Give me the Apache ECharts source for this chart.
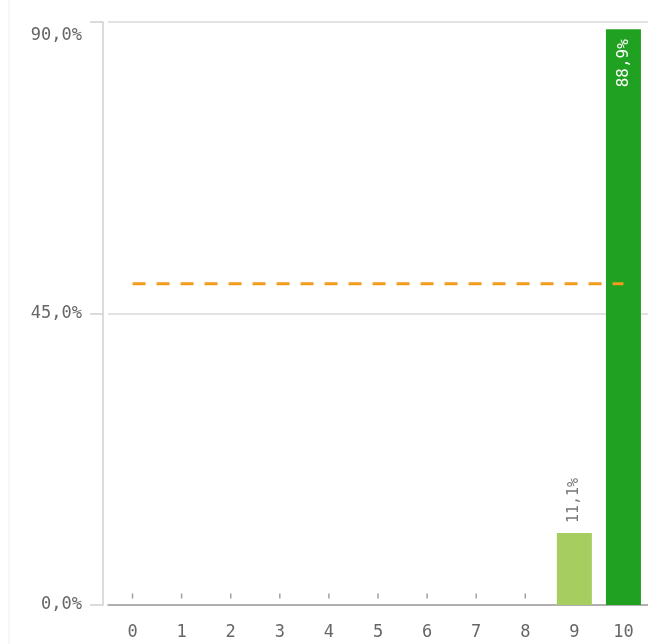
<!DOCTYPE html>
<html>
<head>
<meta charset="utf-8">
<script src="https://cdn.jsdelivr.net/npm/echarts@6/dist/echarts.min.js"></script>
<style>html,body{margin:0;padding:0;background:#fff;}#c{width:648px;height:644px;}</style>
</head>
<body>
<div id="c"></div>
<script>
var categories = ['0','1','2','3','4','5','6','7','8','9','10'];
var values = [0,0,0,0,0,0,0,0,0,11.1,88.9];
var barColors = ['#a5cd60','#a5cd60','#a5cd60','#a5cd60','#a5cd60','#a5cd60','#a5cd60','#a5cd60','#a5cd60','#a5cd60','#21a121'];
var referenceValue = 49.6;
var yTicks = [0, 45, 90];

var fmt = function(v){ return v.toFixed(1).replace('.', ',') + '%'; };
var FONT = '"DejaVu Sans Mono", monospace';
var yMax = yTicks[yTicks.length-1];

var chart = echarts.init(document.getElementById('c'), null, {renderer:'canvas'});
chart.setOption({
  animation: false,
  graphic: [{type:'line', shape:{x1:9,y1:0,x2:9,y2:644}, style:{stroke:'#eeeeee', lineWidth:1}}],
  grid: {left:108, right:-2, top:22, bottom:39, containLabel:false},
  xAxis: {
    type:'category', data:categories,
    axisLine:{show:true, lineStyle:{color:'#a0a0a0', width:1.5}},
    axisTick:{show:false},
    axisLabel:{color:'#666', fontSize:17, fontFamily:FONT, margin:19}
  },
  yAxis: {
    type:'value', min:yTicks[0], max:yMax, interval:45, offset:5,
    axisLine:{show:true, lineStyle:{color:'#d0d0d0', width:1.5}},
    axisTick:{show:true, length:13, lineStyle:{color:'#d0d0d0', width:1.5}},
    splitLine:{show:true, lineStyle:{color:'#d8d8d8', width:1.5}},
    axisLabel:{
      color:'#666', fontSize:17, fontFamily:FONT, margin:21,
      formatter:function(v){ return v === yMax ? '{t|' + fmt(v) + '}' : fmt(v); },
      rich:{t:{color:'#666', fontSize:17, fontFamily:FONT, padding:[28,0,0,0]}}
    }
  },
  series: [
    {
      type:'bar', barWidth:35,
      data: values.map(function(v,i){
        var big = v > 50;
        return {
          value:v,
          itemStyle:{color:barColors[i]},
          label: v > 0 ? {
            show:true, rotate:90,
            position: big ? 'insideTop' : 'top',
            align: big ? 'right' : 'left',
            verticalAlign:'middle',
            distance: big ? 10 : 10,
            color: big ? '#ffffff' : '#777',
            fontSize: big ? 16 : 15, fontFamily:FONT,
            formatter:function(p){ return fmt(p.value); }
          } : {show:false}
        };
      })
    },
    {
      type:'scatter', symbol:'rect', symbolSize:[1.5,5], symbolOffset:[0,-9],
      itemStyle:{color:'#888'}, silent:true,
      data: values.map(function(v){ return v === 0 ? 0 : '-'; })
    },
    {
      type:'line', symbol:'none', silent:true, z:5,
      lineStyle:{color:'#f29b1d', width:3, type:[13,11]},
      data: categories.map(function(){ return referenceValue; })
    }
  ]
});
</script>
</body>
</html>
